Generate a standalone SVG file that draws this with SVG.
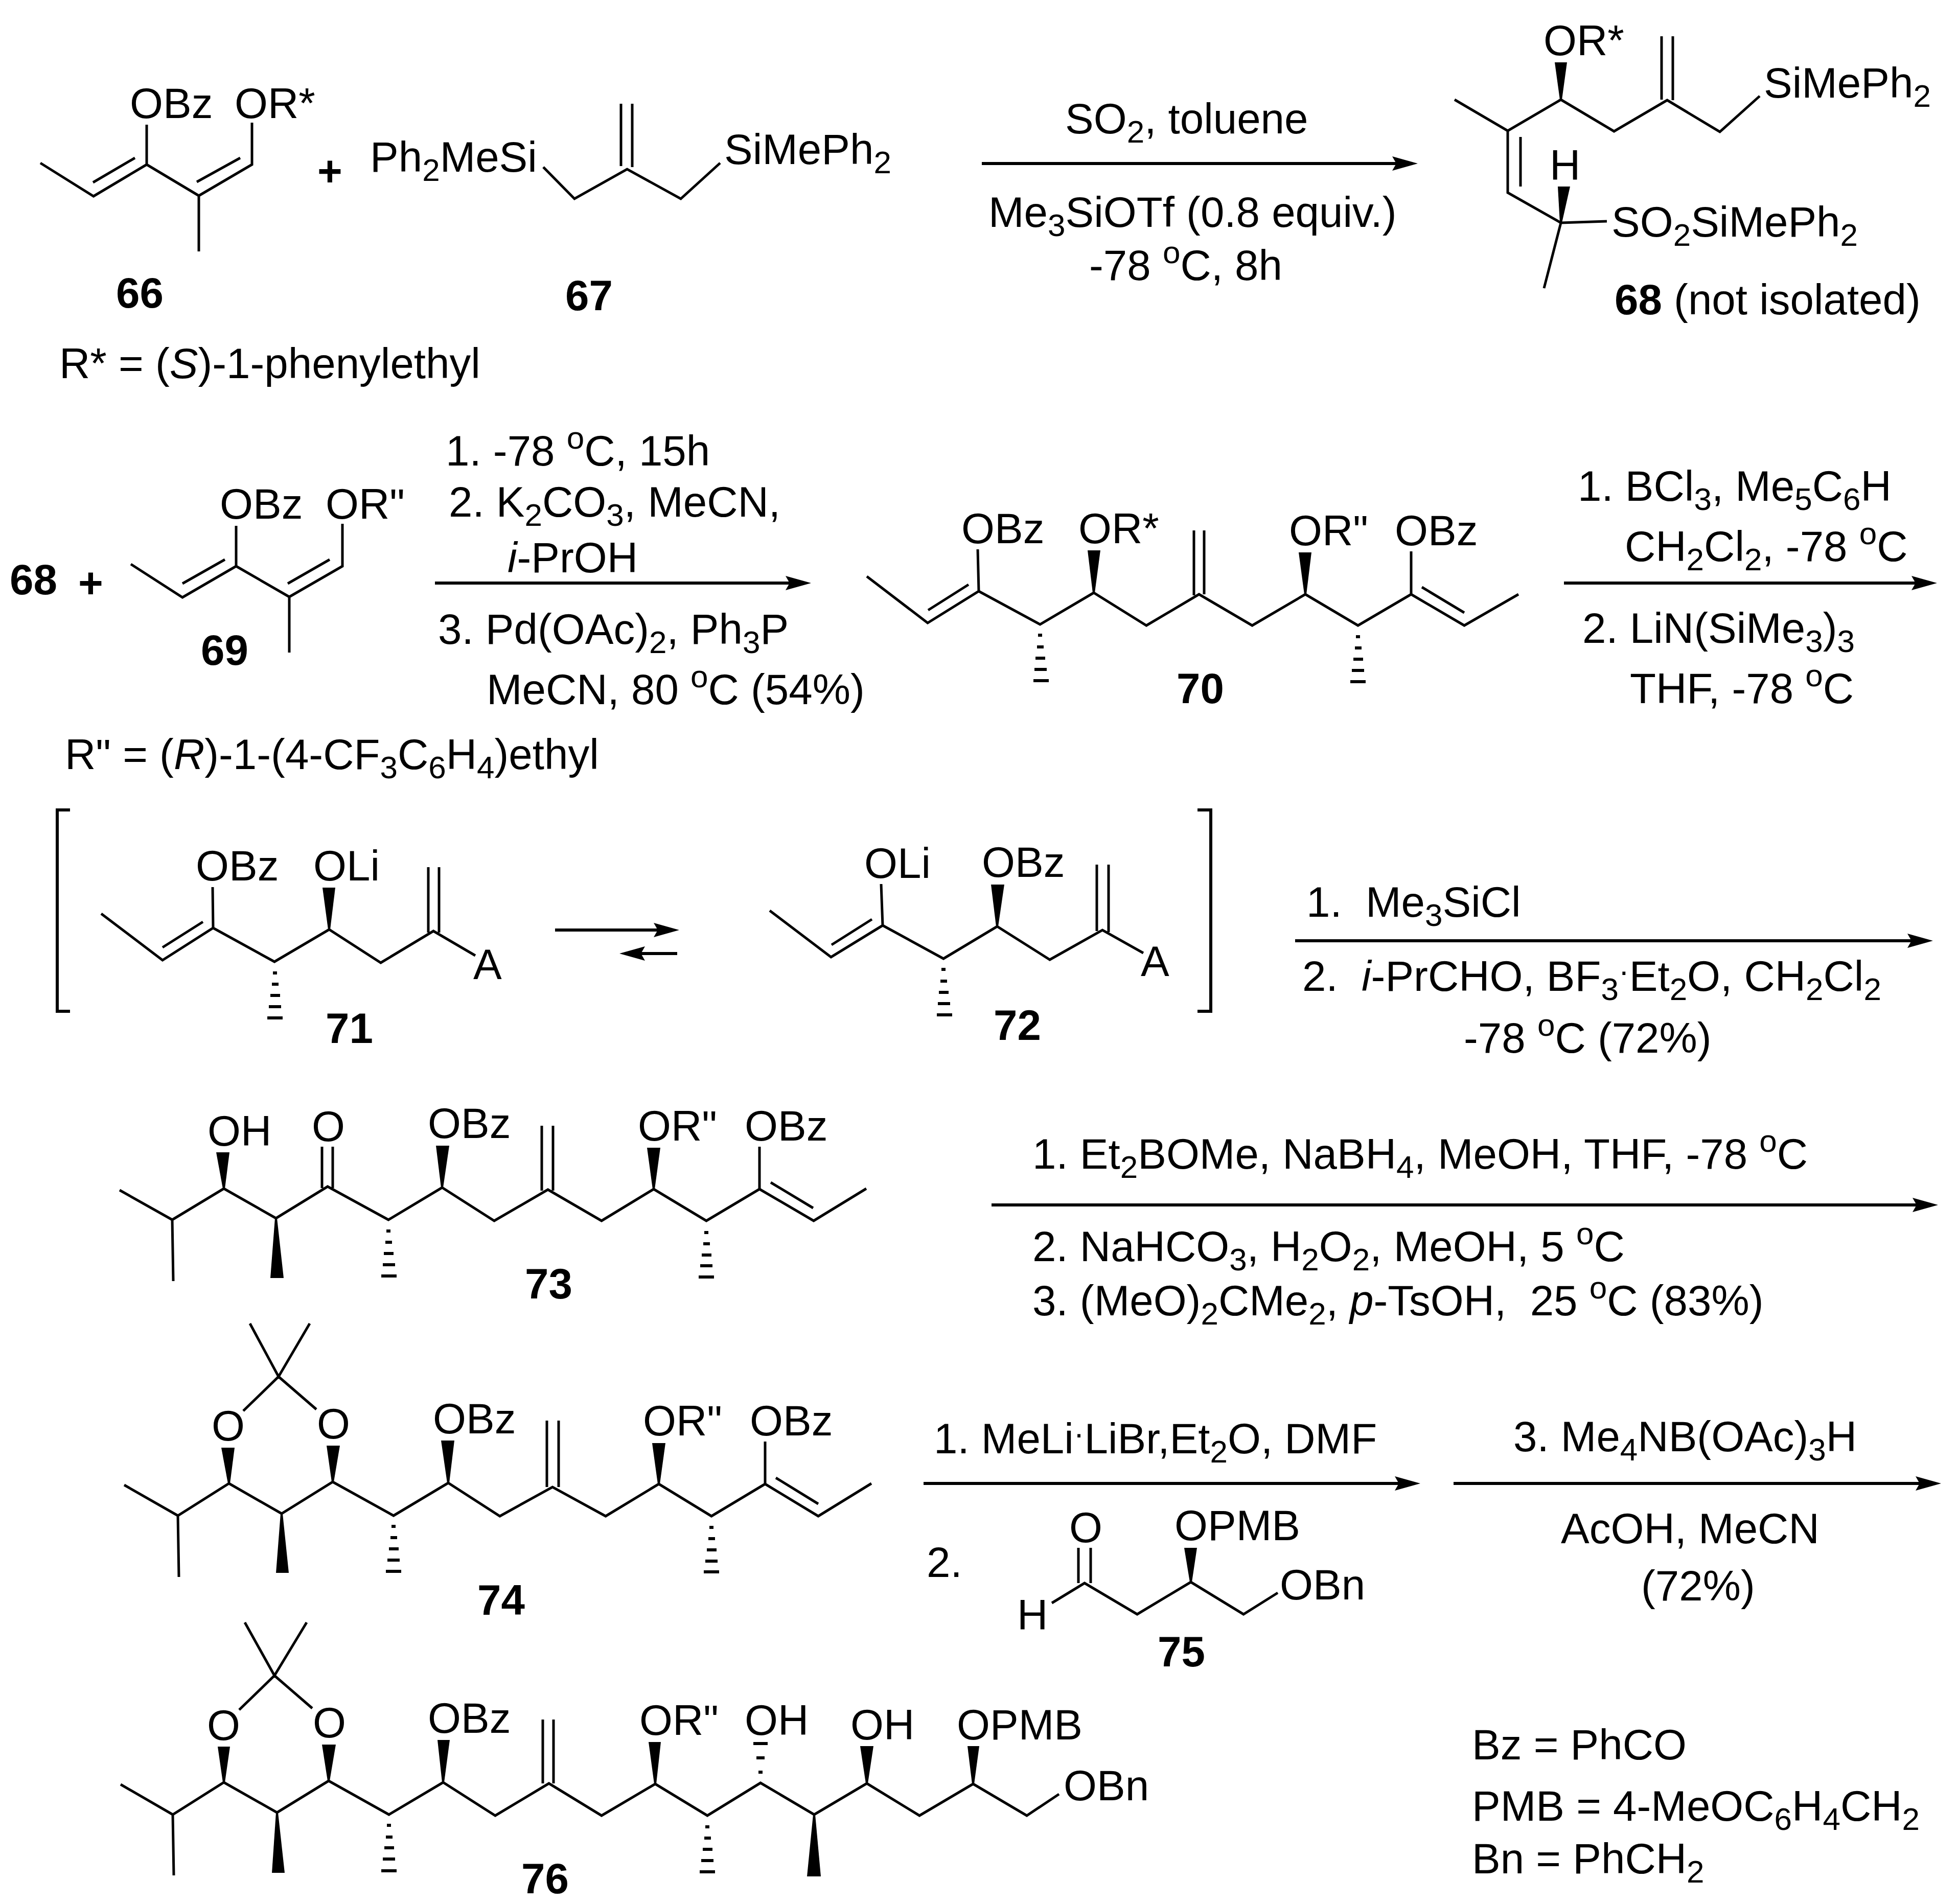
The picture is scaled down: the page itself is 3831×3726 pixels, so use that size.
<svg xmlns="http://www.w3.org/2000/svg" width="3831" height="3726" viewBox="0 0 3831 3726">
<style>
text{font-family:"Liberation Sans",Arial,sans-serif;font-size:83.5px;fill:#000;transform:translate(-3px,0)}
.n{font-weight:bold}
.i{font-style:italic}
.s{font-size:62px}
.b{fill:none;stroke:#000;stroke-width:5;stroke-linejoin:miter;stroke-linecap:butt}
.h{fill:none;stroke:#000;stroke-width:6}
.w{fill:#000;stroke:none}
.a{fill:none;stroke:#000;stroke-width:6;marker-end:url(#ah)}
.k{fill:none;stroke:#000;stroke-width:6}
</style>
<defs>
<marker id="ah" viewBox="0 -14 50 28" markerWidth="50" markerHeight="28" refX="30" refY="0" orient="auto" markerUnits="userSpaceOnUse"><path d="M50 0L0 -14L8 0L0 14Z" fill="#000"/></marker>
</defs>
<rect width="3831" height="3726" fill="#fff"/>

<g id="connectors">
<line class="a" x1="1921" y1="320" x2="2754" y2="320"/>
<line class="a" x1="851" y1="1141" x2="1567" y2="1141"/>
<line class="a" x1="3060" y1="1141" x2="3770" y2="1141"/>
<line class="a" x1="1086" y1="1820" x2="1309" y2="1820"/>
<line class="a" x1="1325" y1="1866" x2="1232" y2="1866"/>
<line class="a" x1="2534" y1="1841" x2="3762" y2="1841"/>
<line class="a" x1="1940" y1="2358" x2="3772" y2="2358"/>
<line class="a" x1="1807" y1="2903" x2="2759" y2="2903"/>
<line class="a" x1="2844" y1="2903" x2="3778" y2="2903"/>
</g>

<g id="m66">
<path class="b" d="M79 319L183 384L287 322L389 383L493 322V240M287 322V244M389 383V492M182 357L264 309M385 356L470 309"/>
<text x="257" y="231">OBz</text>
<text x="462" y="231">OR*</text>
<text class="n" x="230" y="602">66</text>
<text x="119" y="740">R* = (<tspan class="i">S</tspan>)-1-phenylethyl</text>
</g>
<text id="plus1" x="624" y="364" class="n">+</text>

<g id="m67">
<path class="b" d="M1063 327L1124 389L1227 331L1332 389L1409 319M1215 203V325M1237 203V327"/>
<text x="727" y="336">Ph<tspan class="s" dy="18">2</tspan><tspan dy="-18">MeSi</tspan></text>
<text x="1420" y="321">SiMePh<tspan class="s" dy="18">2</tspan></text>
<text class="n" x="1109" y="607">67</text>
</g>

<g id="r1">
<text x="2087" y="261">SO<tspan class="s" dy="18">2</tspan><tspan dy="-18">, toluene</tspan></text>
<text x="1937" y="444">Me<tspan class="s" dy="18">3</tspan><tspan dy="-18">SiOTf (0.8 equiv.)</tspan></text>
<text x="2134" y="548">-78 <tspan class="s" dy="-33">o</tspan><tspan dy="33">C, 8h</tspan></text>
</g>

<g id="m68">
<path class="b" d="M2846 195L2950 256L3054 195L3158 257L3262 196L3365 258L3443 188M3251 71V195M3273 71V196M2950 256V377L3054 436M2975 268V365M3054 436L3144 433M3054 436L3021 564"/>
<polygon class="w" points="3042,122 3066,122 3056,195 3052,195"/>
<polygon class="w" points="3048,365 3072,365 3056,436 3052,436"/>
<text x="3023" y="108">OR*</text>
<text x="3454" y="191">SiMePh<tspan class="s" dy="18">2</tspan></text>
<text x="3035" y="352">H</text>
<text x="3156" y="463">SO<tspan class="s" dy="18">2</tspan><tspan dy="-18">SiMePh</tspan><tspan class="s" dy="18">2</tspan></text>
<text x="3162" y="615"><tspan class="n">68</tspan> (not isolated)</text>
</g>

<g id="m69">
<path class="b" d="M256 1104L357 1169L462 1108L566 1168L670 1108V1025M462 1108V1029M566 1168V1277M357 1142L440 1095M563 1142L645 1095"/>
<text x="433" y="1015">OBz</text>
<text x="640" y="1015">OR"</text>
<text class="n" x="396" y="1301">69</text>
<text x="130" y="1505">R" = (<tspan class="i">R</tspan>)-1-(4-CF<tspan class="s" dy="18">3</tspan><tspan dy="-18">C</tspan><tspan class="s" dy="18">6</tspan><tspan dy="-18">H</tspan><tspan class="s" dy="18">4</tspan><tspan dy="-18">)ethyl</tspan></text>
</g>
<text class="n" x="22" y="1163">68</text>
<text id="plus2" x="156" y="1170" class="n">+</text>

<g id="r2">
<text x="875" y="911">1. -78 <tspan class="s" dy="-33">o</tspan><tspan dy="33">C, 15h</tspan></text>
<text x="881" y="1011">2. K<tspan class="s" dy="18">2</tspan><tspan dy="-18">CO</tspan><tspan class="s" dy="18">3</tspan><tspan dy="-18">, MeCN,</tspan></text>
<text x="996" y="1120"><tspan class="i">i</tspan>-PrOH</text>
<text x="860" y="1260">3. Pd(OAc)<tspan class="s" dy="18">2</tspan><tspan dy="-18">, Ph</tspan><tspan class="s" dy="18">3</tspan><tspan dy="-18">P</tspan></text>
<text x="955" y="1378">MeCN, 80 <tspan class="s" dy="-33">o</tspan><tspan dy="33">C (54%)</tspan></text>
</g>

<g id="m70">
<path class="b" d="M1696 1128L1815 1219L1915 1157L2035 1222L2140 1160L2243 1224L2346 1163L2450 1224L2554 1163L2657 1224L2761 1163L2865 1224L2971 1163M1913 1075L1915 1157M2761 1079V1163M1816 1194L1895 1144M2782 1149L2865 1199M2336 1038V1165M2356 1038V1163"/>
<polygon class="w" points="2128,1077 2153,1077 2142,1160 2138,1160"/>
<polygon class="w" points="2541,1081 2566,1081 2556,1163 2552,1163"/>
<path class="h" d="M2031 1243h8M2029 1266h13M2026 1288h19M2024 1310h24M2022 1332h30"/>
<path class="h" d="M2653 1246h8M2651 1268h13M2648 1290h19M2645 1312h24M2642 1334h30"/>
<text x="1884" y="1063">OBz</text>
<text x="2113" y="1063">OR*</text>
<text x="2525" y="1067">OR"</text>
<text x="2732" y="1067">OBz</text>
<text class="n" x="2305" y="1376">70</text>
</g>

<g id="r3">
<text x="3090" y="980">1. BCl<tspan class="s" dy="18">3</tspan><tspan dy="-18">, Me</tspan><tspan class="s" dy="18">5</tspan><tspan dy="-18">C</tspan><tspan class="s" dy="18">6</tspan><tspan dy="-18">H</tspan></text>
<text x="3182" y="1098">CH<tspan class="s" dy="18">2</tspan><tspan dy="-18">Cl</tspan><tspan class="s" dy="18">2</tspan><tspan dy="-18">, -78 </tspan><tspan class="s" dy="-33">o</tspan><tspan dy="33">C</tspan></text>
<text x="3099" y="1258">2. LiN(SiMe<tspan class="s" dy="18">3</tspan><tspan dy="-18">)</tspan><tspan class="s" dy="18">3</tspan></text>
<text x="3192" y="1376">THF, -78 <tspan class="s" dy="-33">o</tspan><tspan dy="33">C</tspan></text>
</g>

<g id="brackets">
<path class="k" d="M137 1585H112V1979H137"/>
<path class="k" d="M2343 1585H2369V1979H2343"/>
</g>

<g id="m71">
<path class="b" d="M198 1788L318 1879L417 1816L537 1882L644 1819L745 1884L848 1822L930 1870M416 1736L417 1816M318 1854L397 1804M838 1697V1825M859 1697V1825"/>
<polygon class="w" points="631,1737 656,1737 646,1819 642,1819"/>
<path class="h" d="M534 1904h8M532 1926h13M529 1948h19M526 1970h24M523 1992h30"/>
<text x="386" y="1723">OBz</text>
<text x="616" y="1723">OLi</text>
<text x="929" y="1916">A</text>
<text class="n" x="640" y="2041">71</text>
</g>

<g id="m72">
<path class="b" d="M1506 1782L1626 1873L1727 1811L1846 1876L1951 1813L2054 1878L2157 1820L2237 1865M1724 1730L1727 1811M1627 1849L1706 1799M2146 1692V1822M2169 1692V1824"/>
<polygon class="w" points="1939,1731 1965,1731 1953,1813 1949,1813"/>
<path class="h" d="M1842 1897h8M1840 1920h13M1837 1942h19M1835 1964h24M1833 1986h30"/>
<text x="1694" y="1718">OLi</text>
<text x="1924" y="1716">OBz</text>
<text x="2235" y="1910">A</text>
<text class="n" x="1947" y="2035">72</text>
</g>

<g id="r4">
<text x="2559" y="1794">1.&#160; Me<tspan class="s" dy="18">3</tspan><tspan dy="-18">SiCl</tspan></text>
<text x="2551" y="1939">2.&#160; <tspan class="i">i</tspan>-PrCHO, BF<tspan class="s" dy="18">3</tspan><tspan class="s" dy="-36">·</tspan><tspan dy="18">Et</tspan><tspan class="s" dy="18">2</tspan><tspan dy="-18">O, CH</tspan><tspan class="s" dy="18">2</tspan><tspan dy="-18">Cl</tspan><tspan class="s" dy="18">2</tspan></text>
<text x="2867" y="2060">-78 <tspan class="s" dy="-33">o</tspan><tspan dy="33">C (72%)</tspan></text>
</g>

<g id="m73">
<path class="b" d="M234 2329L337 2387L438 2326L540 2384L641 2322L760 2387L865 2324L967 2389L1072 2328L1177 2389L1279 2327L1382 2389L1486 2327L1592 2389L1695 2326M337 2387L339 2507M1486 2244V2327M630 2244V2325M651 2244V2325M1060 2203V2330M1082 2203V2330M1508 2314L1591 2364"/>
<polygon class="w" points="423,2255 449,2255 440,2326 436,2326"/>
<polygon class="w" points="853,2242 879,2242 867,2324 863,2324"/>
<polygon class="w" points="1266,2246 1292,2246 1281,2327 1277,2327"/>
<polygon class="w" points="538,2384 542,2384 555,2501 529,2501"/>
<path class="h" d="M756 2409h8M754 2431h13M751 2453h19M749 2475h24M746 2497h30"/>
<path class="h" d="M1378 2412h8M1376 2434h13M1373 2456h19M1370 2477h24M1367 2499h30"/>
<text x="409" y="2242">OH</text>
<text x="613" y="2233">O</text>
<text x="840" y="2227">OBz</text>
<text x="1251" y="2232">OR"</text>
<text x="1460" y="2232">OBz</text>
<text class="n" x="1030" y="2541">73</text>
</g>

<g id="r5">
<text x="2023" y="2287">1. Et<tspan class="s" dy="18">2</tspan><tspan dy="-18">BOMe, NaBH</tspan><tspan class="s" dy="18">4</tspan><tspan dy="-18">, MeOH, THF, -78 </tspan><tspan class="s" dy="-33">o</tspan><tspan dy="33">C</tspan></text>
<text x="2023" y="2468">2. NaHCO<tspan class="s" dy="18">3</tspan><tspan dy="-18">, H</tspan><tspan class="s" dy="18">2</tspan><tspan dy="-18">O</tspan><tspan class="s" dy="18">2</tspan><tspan dy="-18">, MeOH, 5 </tspan><tspan class="s" dy="-33">o</tspan><tspan dy="33">C</tspan></text>
<text x="2023" y="2574">3. (MeO)<tspan class="s" dy="18">2</tspan><tspan dy="-18">CMe</tspan><tspan class="s" dy="18">2</tspan><tspan dy="-18">, </tspan><tspan class="i">p</tspan>-TsOH,&#160; 25 <tspan class="s" dy="-33">o</tspan><tspan dy="33">C (83%)</tspan></text>
</g>

<g id="m74">
<path class="b" d="M489 2590L545 2694L606 2590M476 2761L545 2694L619 2758M243 2906L348 2966L448 2903L551 2962L651 2900L770 2966L877 2902L978 2967L1081 2910L1185 2967L1289 2904L1392 2967L1497 2904L1601 2967L1705 2903M348 2966L350 3086M1497 2821V2904M1070 2780V2910M1093 2780V2910M1518 2892L1601 2943"/>
<polygon class="w" points="433,2833 459,2833 450,2903 446,2903"/>
<polygon class="w" points="639,2829 665,2829 653,2900 649,2900"/>
<polygon class="w" points="863,2819 889,2819 879,2902 875,2902"/>
<polygon class="w" points="1276,2824 1302,2824 1291,2904 1287,2904"/>
<polygon class="w" points="549,2962 553,2962 565,3078 540,3078"/>
<path class="h" d="M766 2987h8M764 3009h13M761 3031h19M758 3053h24M755 3075h30"/>
<path class="h" d="M1388 2989h8M1386 3011h13M1383 3033h19M1380 3055h24M1377 3076h30"/>
<text x="417" y="2819">O</text>
<text x="623" y="2815">O</text>
<text x="850" y="2805">OBz</text>
<text x="1261" y="2809">OR"</text>
<text x="1470" y="2809">OBz</text>
<text class="n" x="937" y="3160">74</text>
</g>

<g id="r6">
<text x="1830" y="2844">1. MeLi<tspan class="s" dy="-18">·</tspan><tspan dy="18">LiBr,Et</tspan><tspan class="s" dy="18">2</tspan><tspan dy="-18">O, DMF</tspan></text>
<text x="2964" y="2840">3. Me<tspan class="s" dy="18">4</tspan><tspan dy="-18">NB(OAc)</tspan><tspan class="s" dy="18">3</tspan><tspan dy="-18">H</tspan></text>
<text x="3057" y="3020">AcOH, MeCN</text>
<text x="3214" y="3132">(72%)</text>
<text x="1816" y="3086">2.</text>
</g>

<g id="m75">
<path class="b" d="M2058 3137L2122 3098L2225 3159L2330 3096L2433 3159L2500 3117M2110 3029V3098M2134 3029V3098"/>
<polygon class="w" points="2317,3029 2342,3029 2332,3096 2328,3096"/>
<text x="1993" y="3189">H</text>
<text x="2095" y="3018">O</text>
<text x="2301" y="3014">OPMB</text>
<text x="2507" y="3130">OBn</text>
<text class="n" x="2268" y="3261">75</text>
</g>

<g id="m76">
<path class="b" d="M479 3175L537 3279L600 3175M468 3346L537 3279L611 3343M236 3492L338 3551L438 3488L542 3547L643 3485L761 3551L867 3488L969 3553L1074 3490L1177 3553L1282 3491L1384 3553L1488 3489L1593 3551L1696 3490L1799 3553L1904 3491L2009 3553L2072 3511M338 3551L340 3670M1062 3365V3490M1083 3365V3490"/>
<polygon class="w" points="426,3418 450,3418 440,3488 436,3488"/>
<polygon class="w" points="630,3414 657,3414 645,3485 641,3485"/>
<polygon class="w" points="856,3405 880,3405 869,3488 865,3488"/>
<polygon class="w" points="1269,3409 1293,3409 1284,3491 1280,3491"/>
<polygon class="w" points="1683,3417 1709,3417 1698,3490 1694,3490"/>
<polygon class="w" points="1893,3417 1916,3417 1906,3491 1902,3491"/>
<polygon class="w" points="540,3547 544,3547 557,3665 532,3665"/>
<polygon class="w" points="1591,3551 1595,3551 1606,3672 1579,3672"/>
<path class="h" d="M757 3572h8M755 3595h13M752 3616h19M749 3638h24M746 3661h30"/>
<path class="h" d="M1380 3575h8M1378 3597h13M1375 3619h19M1372 3641h24M1369 3663h30"/>
<path class="h" d="M1484 3468h8M1480 3440h16M1474 3412h28"/>
<text x="408" y="3405">O</text>
<text x="615" y="3400">O</text>
<text x="840" y="3391">OBz</text>
<text x="1254" y="3395">OR"</text>
<text x="1460" y="3395">OH</text>
<text x="1667" y="3404">OH</text>
<text x="1875" y="3404">OPMB</text>
<text x="2084" y="3523">OBn</text>
<text class="n" x="1023" y="3705">76</text>
</g>

<g id="legend">
<text x="2883" y="3443">Bz = PhCO</text>
<text x="2883" y="3563">PMB = 4-MeOC<tspan class="s" dy="18">6</tspan><tspan dy="-18">H</tspan><tspan class="s" dy="18">4</tspan><tspan dy="-18">CH</tspan><tspan class="s" dy="18">2</tspan></text>
<text x="2883" y="3666">Bn = PhCH<tspan class="s" dy="18">2</tspan></text>
</g>
</svg>
